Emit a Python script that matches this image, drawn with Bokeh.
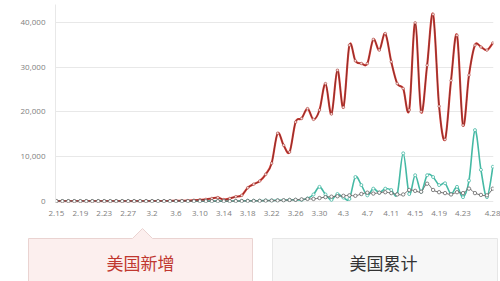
import numpy as np
import pandas as pd
from bokeh.plotting import figure
from bokeh.models import Range1d, FixedTicker, NumeralTickFormatter
from bokeh.core.properties import value
from bokeh.embed import file_html
from bokeh.resources import INLINE

# Daily series, 2.15 - 4.28
days = pd.date_range("2020-02-15", "2020-04-28")
date_labels = [f"{d.month}.{d.day}" for d in days]

new_cases = [0] * 15 + [
    10, 20, 25, 30, 50, 80, 100, 120, 200, 300,
    400, 600, 800, 350, 600, 1000, 1300, 3000, 3800, 4500,
    6000, 8500, 15200, 12500, 11000, 17700, 18500, 20700, 18300, 20400,
    26300, 19500, 29300, 21000, 34900, 31400, 30800, 30800, 36200, 33800,
    37500, 31200, 26300, 25200, 20400, 39900, 20000, 30400, 41800, 21250,
    13800, 27000, 37100, 17000, 28200, 34900, 34500, 33800, 35400,
]
new_recovered = [0] * 30 + [
    50, 50, 100, 100, 100, 150, 150, 200, 200, 300,
    300, 300, 600, 1500, 3200, 1500, 300, 1600, 800, 500,
    5400, 3600, 1300, 2800, 1900, 2800, 2500, 1600, 10700, 1600,
    5800, 2100, 5800, 5400, 3600, 4000, 1600, 3200, 900, 4600,
    15900, 7000, 900, 7700,
]
new_deaths = [0] * 30 + [
    20, 30, 40, 50, 60, 100, 120, 150, 200, 250,
    300, 400, 500, 500, 700, 900, 1000, 1100, 1200, 1300,
    1200, 1600, 1900, 1700, 1900, 2000, 1800, 1500, 1500, 2500,
    2300, 2100, 3900, 2500, 2000, 1800, 1500, 2000, 1800, 2800,
    1800, 1400, 1300, 2800,
]

y_ticks = [0, 10000, 20000, 30000, 40000]
tab_labels = ["美国新增", "美国累计"]

x = np.arange(len(date_labels), dtype=float)
x_ticks = list(range(0, len(date_labels) - 4, 4)) + [len(date_labels) - 1]

p = figure(width=500, height=218, output_backend="svg", toolbar_location=None,
           x_range=Range1d(-0.15, 73.1), y_range=Range1d(-300, 44000),
           min_border_left=55, min_border_right=7, min_border_top=4,
           min_border_bottom=15)
p.outline_line_color = None
p.background_fill_color = "white"
p.border_fill_color = "white"

p.xgrid.grid_line_color = None
p.ygrid.grid_line_color = "#e8e8e8"
p.ygrid.grid_line_width = 1
p.yaxis.ticker = FixedTicker(ticks=y_ticks)
p.yaxis.formatter = NumeralTickFormatter(format="0,0")
p.xaxis.ticker = FixedTicker(ticks=x_ticks)
p.xaxis.major_label_overrides = {t: date_labels[t] for t in x_ticks}

for ax in (p.xaxis[0], p.yaxis[0]):
    ax.major_tick_line_color = None
    ax.minor_tick_line_color = None
    ax.major_label_text_font = "Open Sans"
    ax.major_label_text_font_size = "8px"
    ax.major_label_text_color = "#808080"
p.xaxis.axis_line_color = None
p.yaxis.axis_line_color = "#e8e8e8"
p.xaxis.major_label_standoff = 2
p.yaxis.major_label_standoff = 4


def smooth_curve(fig, xs, ys, color, width, alpha=1.0):
    """Draw a Catmull-Rom style smoothed line through the points as bezier segments."""
    ys = np.asarray(ys, dtype=float)
    n = len(xs)
    prev_i = np.clip(np.arange(n) - 1, 0, n - 1)
    next_i = np.clip(np.arange(n) + 1, 0, n - 1)
    i0 = np.arange(n - 1)
    i1 = i0 + 1
    cx0 = xs[i0] + (xs[next_i[i0]] - xs[prev_i[i0]]) / 6
    cy0 = ys[i0] + (ys[next_i[i0]] - ys[prev_i[i0]]) / 6
    cx1 = xs[i1] - (xs[next_i[i1]] - xs[prev_i[i1]]) / 6
    cy1 = ys[i1] - (ys[next_i[i1]] - ys[prev_i[i1]]) / 6
    fig.bezier(x0=xs[i0], y0=ys[i0], x1=xs[i1], y1=ys[i1],
               cx0=cx0, cy0=cy0, cx1=cx1, cy1=cy1,
               line_color=color, line_width=width, line_alpha=alpha)


# recovered (teal)
smooth_curve(p, x, new_recovered, "#45b9a4", 1.6)
p.scatter(x, new_recovered, size=3, marker="circle", fill_color="white",
          line_color="#45b9a4", line_width=0.8)

# new cases (red with dark core)
smooth_curve(p, x, new_cases, "#dd4038", 2.1)
smooth_curve(p, x, new_cases, "#5a2626", 0.8, alpha=0.85)
p.scatter(x, new_cases, size=2.6, marker="circle", fill_color="#f6dcda",
          line_color="#9a2e29", line_width=0.5)

# deaths (gray)
smooth_curve(p, x, new_deaths, "#707070", 1.0)
p.scatter(x, new_deaths, size=3.4, marker="circle", fill_color="white",
          line_color="#666666", line_width=0.8)

# tab bar underneath, rendered as its own root so it keeps its own frame
t = figure(width=500, height=63, output_backend="svg", toolbar_location=None,
           x_range=Range1d(0, 500), y_range=Range1d(63, 0),
           x_axis_location=None, y_axis_location=None,
           min_border=0)
t.grid.visible = False
t.outline_line_color = None
t.border_fill_color = "white"
t.background_fill_color = "white"

t.patch([28, 28, 132, 142, 152, 252, 252], [70, 20, 20, 10, 20, 20, 70],
        fill_color="#fcefee", line_color="#ead3d1", line_width=1)
t.patch([272, 272, 497, 497], [70, 20, 20, 70],
        fill_color="#f7f7f7", line_color="#e6e6e6", line_width=1)
t.text(x=[140, 383], y=[44, 44], text=tab_labels,
       text_color=["#c0372f", "#333333"], text_font=value("Noto Sans CJK SC"),
       text_font_size="17px", text_align="center", text_baseline="middle")

open("out.html", "w").write(file_html([p, t], INLINE))
